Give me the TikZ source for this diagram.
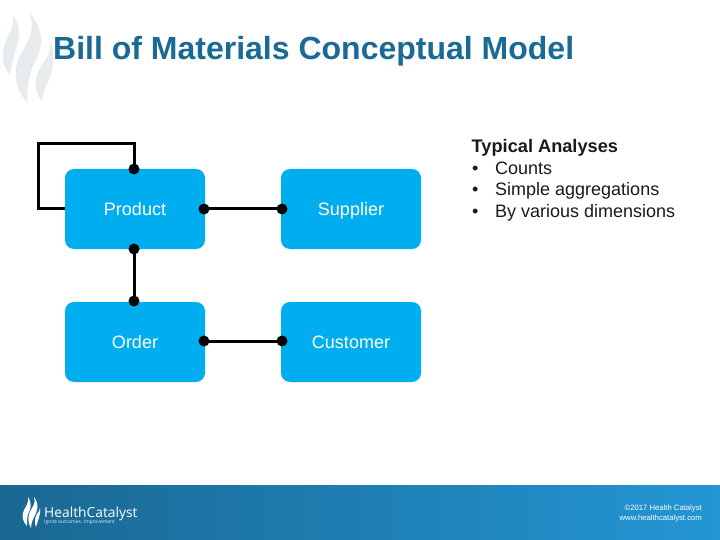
\documentclass[tikz,border=0pt]{standalone}
\usepackage{fontspec}
\setmainfont{Liberation Sans}
\newfontfamily\logofont{Open Sans}
\definecolor{titleblue}{HTML}{1A6A96}
\definecolor{boxblue}{HTML}{00AEEF}
\definecolor{bandleft}{HTML}{1A6792}
\definecolor{bandright}{HTML}{2396D4}
\definecolor{flamegrey}{HTML}{E8EBED}
\definecolor{texthead}{HTML}{1A1A1A}
\tikzset{
  x=1pt,y=-1pt,
  entity/.style={fill=boxblue,rounded corners=9pt,minimum width=140pt,minimum height=80pt,inner sep=0pt,text=white,text height=13pt,text depth=0pt,font=\fontsize{18}{20}\selectfont},
  dot/.style={circle,fill=black,minimum size=11pt,inner sep=0pt},
  link/.style={line width=3pt,draw=black},
  flame/.style={fill=flamegrey,draw=none},
  flamew/.style={fill=white,draw=none},
  bodytext/.style={anchor=base west,inner sep=0pt,text=texthead,font=\fontsize{18}{20}\selectfont},
  foottext/.style={anchor=base east,inner sep=0pt,text=white,font=\fontsize{7.7}{10}\selectfont},
}
\begin{document}
\begin{tikzpicture}
\useasboundingbox (0,0) rectangle (720,540);
\fill[white] (0,0) rectangle (720,540);
% watermark flames
\fill[flame] (13,15) .. controls (24,30) and (17,44) .. (14,56) .. controls (12,64) and (10,72) .. (10,75) .. controls (4,68) and (1,60) .. (4,47) .. controls (6,36) and (15,30) .. (13,15) -- cycle;
\fill[flame] (30,13) .. controls (46,32) and (42,50) .. (34,64) .. controls (28,76) and (27,90) .. (27,102) .. controls (16,90) and (13,76) .. (18,60) .. controls (24,46) and (36,36) .. (30,13) -- cycle;
\fill[flame] (51,43) .. controls (56,60) and (52,74) .. (47,84) .. controls (44,90) and (43,96) .. (42,101) .. controls (36,94) and (34,84) .. (37,75) .. controls (40,65) and (50,58) .. (51,43) -- cycle;
% title
\node[anchor=base west,inner sep=0pt,text=titleblue,font=\bfseries\fontsize{32}{34}\selectfont] (title) at (53,60) {Bill of Materials Conceptual Model};
% entities
\node[entity] (product) at (135,209) {Product};
\node[entity] (supplier) at (351,209) {Supplier};
\node[entity] (order) at (135,342) {Order};
\node[entity] (customer) at (351,342) {Customer};
% connector end dots
\node[dot] (ptop) at (134,169) {};
\node[dot] (pright) at (204,209) {};
\node[dot] (pbottom) at (134,249) {};
\node[dot] (sleft) at (282,209) {};
\node[dot] (otop) at (134,301) {};
\node[dot] (oright) at (204,341) {};
\node[dot] (cleft) at (282,341) {};
\coordinate (pleft) at (65,209);
\coordinate (loopa) at (38,209);
\coordinate (loopb) at (38,144);
\coordinate (loopc) at (134,144);
% connectors
\draw[link] (pright.center) -- (sleft.center);
\draw[link] (oright.center) -- (cleft.center);
\draw[link] (pbottom.center) -- (otop.center);
\draw[link,line join=miter] (pleft) -- (loopa) -- (loopb) -- (loopc) -- (ptop.center);
% analyses
\node[bodytext,font=\bfseries\fontsize{18.2}{20}\selectfont] (ahead) at (471.5,153) {Typical Analyses};
\node[bodytext] (b1m) at (472,175) {•};
\node[bodytext] (b1) at (495,175) {Counts};
\node[bodytext] (b2m) at (472,196) {•};
\node[bodytext] (b2) at (495,196) {Simple aggregations};
\node[bodytext] (b3m) at (472,218) {•};
\node[bodytext] (b3) at (495,218) {By various dimensions};
% footer band
\shade[left color=bandleft,right color=bandright] (0,485) rectangle (720,540);
% footer logo
\fill[flamew] (28,497) .. controls (33,505) and (30,510) .. (28,514) .. controls (27,518) and (27,522) .. (27,526) .. controls (23,522) and (21,516) .. (24,510) .. controls (26,506) and (29,503) .. (28,497) -- cycle;
\fill[flamew] (34,497) .. controls (40,505) and (37,512) .. (34,517) .. controls (32,521) and (31,525) .. (31,528) .. controls (27,522) and (28,514) .. (31,510) .. controls (33,506) and (36,503) .. (34,497) -- cycle;
\fill[flamew] (40,508) .. controls (41,514) and (38,520) .. (36,527) .. controls (34,522) and (35,517) .. (37,514) .. controls (38,512) and (40,511) .. (40,508) -- cycle;
\node[anchor=base west,inner sep=0pt,text=white,font=\logofont\fontsize{13.8}{16}\selectfont] (logo) at (44,517) {HealthCatalyst};
\node[anchor=base west,inner sep=0pt,text=white!85!bandleft,font=\logofont\fontsize{4.9}{6}\selectfont] (tag) at (44,523.5) {Ignite outcomes. Improvement};
\node[foottext] (copy) at (702,510) {©2017 Health Catalyst};
\node[foottext] (web) at (702,520) {www.healthcatalyst.com};
\end{tikzpicture}
\end{document}
